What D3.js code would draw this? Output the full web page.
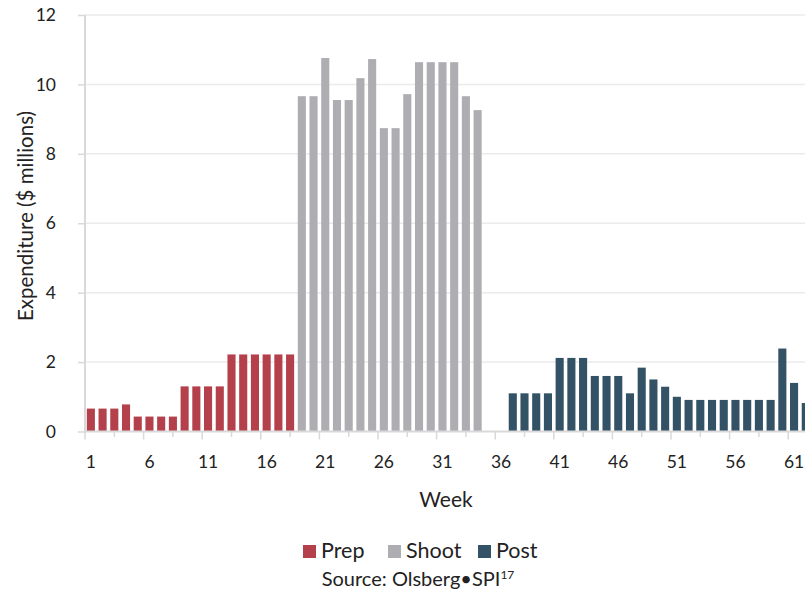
<!DOCTYPE html>
<html><head><meta charset="utf-8">
<script src="https://cdn.jsdelivr.net/npm/d3@7"></script>
<style>body{margin:0;background:#fff}svg{display:block}text{font-family:Lato,"Open Sans",sans-serif;fill:#222}</style>
</head><body><svg id="c" width="805" height="598"></svg>
<script>
const prepWeeks = d3.range(1, 19);
const prepValues = [0.66,0.66,0.66,0.78,0.43,0.43,0.43,0.43,1.3,1.3,1.3,1.3,2.22,2.22,2.22,2.22,2.22,2.22];
const shootWeeks = d3.range(19, 35);
const shootValues = [9.66,9.66,10.76,9.55,9.55,10.18,10.73,8.74,8.74,9.72,10.64,10.64,10.64,10.64,9.66,9.26];
const postWeeks = d3.range(37, 63);
const postValues = [1.1,1.1,1.1,1.1,2.12,2.12,2.12,1.6,1.6,1.6,1.1,1.84,1.5,1.29,1.0,0.91,0.91,0.91,0.91,0.91,0.91,0.91,0.91,2.39,1.4,0.82];
const weeks = d3.range(1, 63);
const yTicks = [0,2,4,6,8,10,12];
const xLabelWeeks = [1,6,11,16,21,26,31,36,41,46,51,56,61];
const seriesNames = ["Prep","Shoot","Post"];
const colors = {Prep:"#b3404a", Shoot:"#adadb2", Post:"#335266"};

const svg = d3.select("#c");
const mLeft = 85, mTop = 15, mBottom = 431.5, step = 11.72;
const x = d3.scaleBand().domain(weeks).range([mLeft, mLeft + weeks.length*step]).paddingInner(0.31).paddingOuter(0.155);
const xl = d3.scaleLinear().domain([0.5, weeks.length+0.5]).range([mLeft, mLeft + weeks.length*step]);
const y = d3.scaleLinear().domain([0,12]).range([mBottom, mTop]);

// gridlines
svg.append("g").selectAll("line").data(yTicks.filter(d=>d>0)).join("line")
  .attr("x1", mLeft).attr("x2", 805).attr("y1", d=>y(d)).attr("y2", d=>y(d))
  .attr("stroke", "#ebebeb").attr("stroke-width", 1.5);

// bars
const data = [];
prepWeeks.forEach((w,i)=>data.push({w, v:prepValues[i], s:"Prep"}));
shootWeeks.forEach((w,i)=>data.push({w, v:shootValues[i], s:"Shoot"}));
postWeeks.forEach((w,i)=>data.push({w, v:postValues[i], s:"Post"}));
svg.append("g").selectAll("rect").data(data).join("rect")
  .attr("x", d=>x(d.w)).attr("width", x.bandwidth())
  .attr("y", d=>y(d.v)).attr("height", d=>y(0)-y(d.v))
  .attr("fill", d=>colors[d.s]);

// y axis
const ya = svg.append("g").attr("transform", `translate(${mLeft},0)`)
  .call(d3.axisLeft(y).tickValues(yTicks).tickSize(7).tickPadding(22).tickFormat(d3.format("d")));
ya.select(".domain").attr("stroke", "#d9d9d9").attr("stroke-width", 2).attr("d", `M0,${mTop}V${mBottom}`);
ya.selectAll(".tick line").attr("stroke", "#d9d9d9").attr("stroke-width", 1.5);
ya.selectAll(".tick text").attr("font-size", 17.5).attr("fill", "#222").style("font-family","Lato,sans-serif");

// x axis line and ticks
const xg = svg.append("g");
xg.append("line").attr("x1", mLeft).attr("x2", 805).attr("y1", mBottom).attr("y2", mBottom).attr("stroke", "#d9d9d9").attr("stroke-width", 2);
const tickPos = d3.range(0.5, weeks.length+0.6, 2.5);
xg.selectAll("line.t").data(tickPos).join("line").attr("class","t")
  .attr("x1", d=>xl(d)).attr("x2", d=>xl(d)).attr("y1", mBottom)
  .attr("y2", (d,i)=> i%2===0 ? mBottom+8 : mBottom+5.5)
  .attr("stroke", "#d9d9d9").attr("stroke-width", 1.5);
const xa = svg.append("g").attr("transform", `translate(0,${mBottom})`)
  .call(d3.axisBottom(x).tickValues(xLabelWeeks).tickSize(0).tickPadding(24));
xa.select(".domain").remove();
xa.selectAll(".tick text").attr("font-size", 17.5).attr("fill", "#222").style("font-family","Lato,sans-serif");

// titles
svg.append("text").attr("x", 446).attr("y", 507).attr("text-anchor","middle").attr("font-size", 21).text("Week");
svg.append("text").attr("transform", "translate(33,216) rotate(-90)").attr("text-anchor","middle").attr("font-size", 20.5).text("Expenditure ($ millions)");

// legend
const lg = svg.append("g");
const legX = [303, 388, 478];
seriesNames.forEach((s,i)=>{
  lg.append("rect").attr("x", legX[i]).attr("y", 545).attr("width", 13).attr("height", 13).attr("fill", colors[s]);
  lg.append("text").attr("x", legX[i]+18).attr("y", 558).attr("font-size", 21.5).text(s);
});
const src = svg.append("text").attr("x", 418).attr("y", 586).attr("text-anchor","middle").attr("font-size", 20);
src.append("tspan").text("Source: Olsberg\u2022SPI");
src.append("tspan").attr("font-size", 12).attr("dy", -7).text("17");
</script></body></html>
